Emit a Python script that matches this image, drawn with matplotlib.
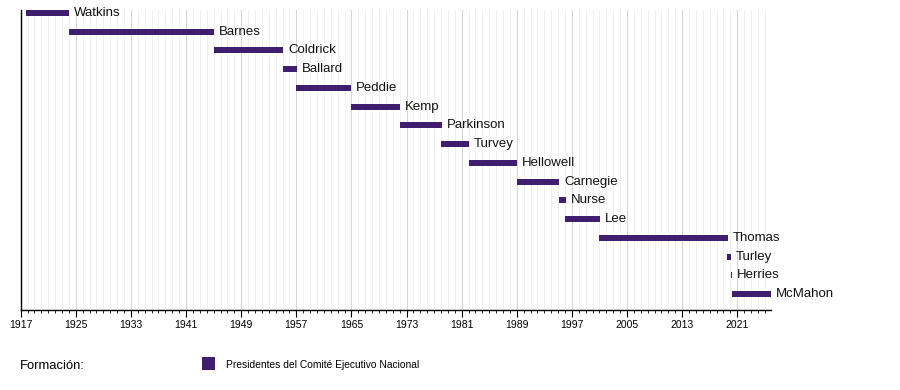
import matplotlib.pyplot as plt
from matplotlib.ticker import MultipleLocator, FixedLocator

plt.rcParams['font.family'] = ['Liberation Sans', 'DejaVu Sans']

# presidentes y años de mandato (estimados del gráfico)
names = ["Watkins", "Barnes", "Coldrick", "Ballard", "Peddie", "Kemp",
         "Parkinson", "Turvey", "Hellowell", "Carnegie", "Nurse", "Lee",
         "Thomas", "Turley", "Herries", "McMahon"]
starts = [1917.8, 1924.0, 1945.0, 1955.0, 1957.0, 1965.0, 1972.0, 1978.0,
          1982.0, 1989.0, 1995.2, 1996.0, 2001.0, 2019.5, 2020.1, 2020.2]
ends = [1924.0, 1945.0, 1955.1, 1957.1, 1965.0, 1972.1, 1978.1, 1982.1,
        1989.1, 1995.2, 1996.2, 2001.1, 2019.6, 2020.1, 2020.25, 2025.9]
major_years = list(range(1917, 2026, 8))

color = '#3f1e6f'

fig = plt.figure(figsize=(9, 3.9), dpi=100)
ax = fig.add_axes([20.7 / 900, 1 - 310 / 390, (771 - 20.7) / 900, 300 / 390])

for i, (n, s, e) in enumerate(zip(names, starts, ends)):
    ax.barh(i, e - s, left=s, height=0.32, color=color, linewidth=0)
    ax.text(e + 0.7, i, n, va='center', ha='left', fontsize=9.5, color='#111111')

ax.set_xlim(1917, 2025.9)
ax.set_ylim(15.85, -0.15)

ax.xaxis.set_major_locator(FixedLocator(major_years))
ax.xaxis.set_minor_locator(MultipleLocator(1))
ax.set_xticklabels([str(y) for y in major_years], fontsize=7.5)
ax.grid(True, which='minor', axis='x', color='#f0f0f0', linewidth=0.7)
ax.grid(True, which='major', axis='x', color='#d6d6d6', linewidth=0.8)
ax.set_axisbelow(True)
ax.tick_params(axis='x', which='major', length=5, width=0.8, pad=2)
ax.tick_params(axis='x', which='minor', length=2.5, width=0.6)
ax.set_yticks([])

for side in ['top', 'right']:
    ax.spines[side].set_visible(False)
ax.spines['left'].set_linewidth(1)
ax.spines['bottom'].set_linewidth(1)

# leyenda
fig.text(20 / 900, 1 - 366 / 390, "Formación:", fontsize=9.4, va='center', ha='left')
fig.patches.append(plt.Rectangle((202 / 900, 1 - 370 / 390), 13 / 900, 13 / 390,
                                 transform=fig.transFigure, color=color, linewidth=0))
fig.text(226 / 900, 1 - 365 / 390, "Presidentes del Comité Ejecutivo Nacional",
         fontsize=7.4, va='center', ha='left')

fig.savefig('out.png', dpi=100, facecolor='white')
